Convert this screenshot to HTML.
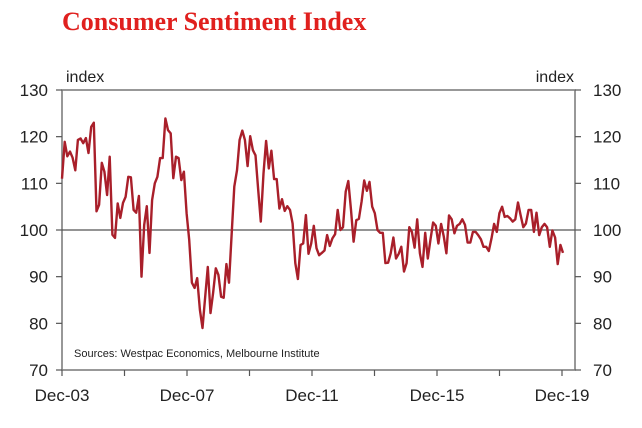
<!DOCTYPE html>
<html><head><meta charset="utf-8"><style>
body{margin:0;background:#fff;}
svg{display:block;font-family:"Liberation Sans",sans-serif;}
</style></head><body>
<svg width="642" height="428" id="chart">
<text x="62" y="30" font-family="Liberation Serif,serif" font-weight="bold" font-size="26" fill="#e0201e">Consumer Sentiment Index</text>
<text x="66" y="82" font-size="16" fill="#222">index</text>
<text x="574" y="82" font-size="16" fill="#222" text-anchor="end">index</text>
<text x="74" y="357" font-size="11" fill="#222">Sources: Westpac Economics, Melbourne Institute</text>
<g id="axes"></g>
<g id="series"></g>
</svg>
<script>
const yTicks=[70,80,90,100,110,120,130];
const xLabels=["Dec-03","Dec-07","Dec-11","Dec-15","Dec-19"];
const xLabelMonths=[0,48,96,144,192];
const xTickMonths=[0,24,48,72,96,120,144,168,192];
const values=[111,118.9,115.8,116.8,115.5,112.8,119.3,119.6,118.6,119.7,116.5,122.1,123,104,105.4,114.4,112.5,107.5,115.7,99,98.3,105.7,102.6,105.8,107.1,111.4,111.3,104.3,103.7,107.3,90,101.1,105.1,95.1,106.4,110,111.4,115.4,115.4,123.9,121.4,120.7,111.1,115.7,115.4,110.7,112.5,103.6,97.9,88.7,87.6,89.7,82.9,79,85.7,92.1,82.2,86.5,91.8,90.4,85.7,85.5,92.7,88.7,99.3,109.3,112.8,119.3,121.3,119.3,113.7,120.1,117.1,
116,108.6,101.8,112.1,119.1,113.2,117,110.9,110.9,104.6,106.6,104.1,105.1,104.3,101.4,92.9,89.5,96.8,97.1,103.2,94.9,97.1,100.9,96.1,94.6,95.1,95.6,98.9,96.6,98.2,99.1,104.3,100,100.6,108.2,110.5,104.3,97.5,102.1,102.4,106.1,110.6,108.4,110.3,105,103.6,100,99.4,99.4,92.9,93,95,98.4,93.9,94.9,96.4,91.1,92.9,
100.6,99.6,96.2,102.3,95,92.1,99.4,93.9,98,101.6,100.9,97.1,101.3,98.7,95,103.1,102.3,99.3,100.9,101.3,102.3,101.1,97.3,97.3,99.6,99.6,98.9,98,96.4,96.4,95.5,98.2,101.3,99.6,103.6,105,102.8,103,102.5,101.8,102.3,105.9,103.2,100.6,101.4,104.3,104.3,99.6,103.7,98.9,100.6,101.3,100.6,96.4,99.9,98.4,92.7,96.8,95.1];
const L=62,R=575,T=90,B=370;
const lastMonth=192.4;
function xm(m){return L+(m)*(125/48);}
function xi(i){return xm(i*lastMonth/(values.length-1));}
function y(v){return B-(v-70)*(B-T)/60;}
const NS="http://www.w3.org/2000/svg";
const ax=document.getElementById('axes');
function mk(tag,attrs,parent){const e=document.createElementNS(NS,tag);for(const k in attrs)e.setAttribute(k,attrs[k]);parent.appendChild(e);return e;}
let e;
e=mk('rect',{x:L,y:T,width:R-L,height:B-T,fill:'none',stroke:'#777','stroke-width':1.5},ax);


e=mk('line',{x1:L,x2:R,y1:y(100),y2:y(100),stroke:'#555','stroke-width':1.2},ax);


yTicks.forEach(v=>{
 let t=mk('line',{x1:L-6,x2:L,y1:y(v),y2:y(v),stroke:'#555','stroke-width':1.2},ax);
 
 
 t=mk('line',{x1:R,x2:R+6,y1:y(v),y2:y(v),stroke:'#555','stroke-width':1.2},ax);
 
 
 let a=mk('text',{x:L-14,y:y(v)+6,'font-size':17,'text-anchor':'end',fill:'#222'},ax);a.textContent=v;
 
 
 let b=mk('text',{x:R+18,y:y(v)+6,'font-size':17,fill:'#222'},ax);b.textContent=v;
 
 
});
xTickMonths.forEach(m=>{
 const t=mk('line',{x1:xm(m),x2:xm(m),y1:B,y2:B+6,stroke:'#555','stroke-width':1.2},ax);
 
 
});
xLabels.forEach((s,i)=>{
 const t=mk('text',{x:xm(xLabelMonths[i]),y:B+31,'font-size':17,'text-anchor':'middle',fill:'#222'},ax);t.textContent=s;
 
 
});
const d=values.map((v,i)=>(i?'L':'M')+xi(i).toFixed(1)+','+y(v).toFixed(1)).join('');
const p=mk('path',{d:d,fill:'none',stroke:'#a91f2a','stroke-width':2.4,'stroke-linejoin':'round'},document.getElementById('series'));


</script>
</body></html>
